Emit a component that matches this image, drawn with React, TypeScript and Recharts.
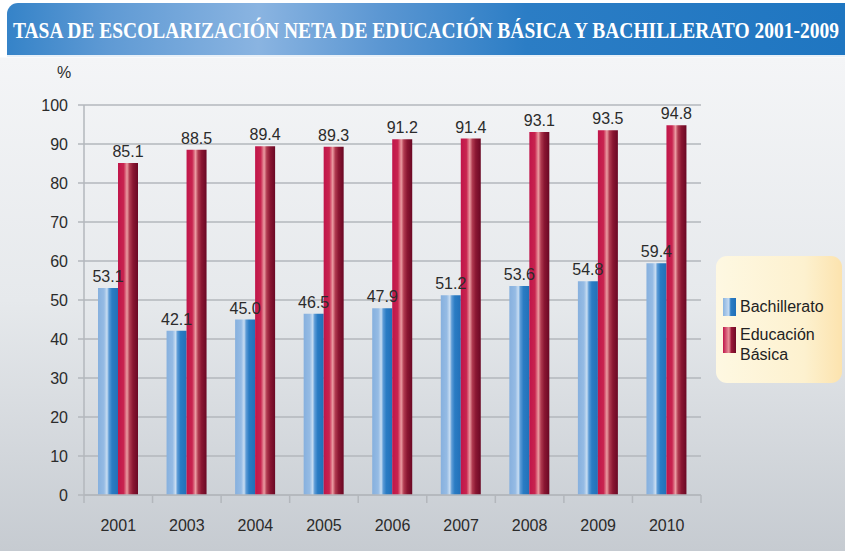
import React from 'react';
import { BarChart, Bar, XAxis, YAxis, CartesianGrid, LabelList } from 'recharts';

const years = ['2001', '2003', '2004', '2005', '2006', '2007', '2008', '2009', '2010'];
const bachillerato = [53.1, 42.1, 45.0, 46.5, 47.9, 51.2, 53.6, 54.8, 59.4];
const basica = [85.1, 88.5, 89.4, 89.3, 91.2, 91.4, 93.1, 93.5, 94.8];
const yTicks = [0, 10, 20, 30, 40, 50, 60, 70, 80, 90, 100];

const data = years.map((year, i) => ({ year, bachillerato: bachillerato[i], basica: basica[i] }));

const font = '"Liberation Sans", Arial, sans-serif';

const XTick = (props: any) => {
  const { x, y, payload, index } = props;
  const half = payload && payload.offset ? payload.offset : 34.3;
  return (
    <g>
      <line x1={x - half} y1={y - 8} x2={x - half} y2={y} stroke="#b3b7bc" strokeWidth={1.5} />
      {index === years.length - 1 && (
        <line x1={x + half} y1={y - 8} x2={x + half} y2={y} stroke="#b3b7bc" strokeWidth={1.5} />
      )}
      <text x={x} y={y + 28} textAnchor="middle" fontSize={16} fill="#2b2b2b" fontFamily={font}>
        {payload.value}
      </text>
    </g>
  );
};

const LegendBox = () => (
  <div
    style={{
      position: 'absolute',
      left: 716,
      top: 256,
      width: 126,
      height: 127,
      borderRadius: 11,
      background: 'linear-gradient(to right, #fef8e2, #fdf1cf 70%, #fce3ae)',
      fontFamily: font,
      fontSize: 16,
      color: '#222',
      boxSizing: 'border-box',
      paddingTop: 41,
      paddingLeft: 7,
    }}
  >
    <div style={{ display: 'flex', alignItems: 'center', height: 20 }}>
      <div style={{ width: 13, height: 18, background: 'linear-gradient(to right, #8ab4e0, #c4daf1 45%, #2a7cc4 60%, #1f6fb8)' }} />
      <span style={{ marginLeft: 4 }}>Bachillerato</span>
    </div>
    <div style={{ display: 'flex', alignItems: 'flex-start', marginTop: 8 }}>
      <div style={{ width: 13, height: 26, marginTop: 2, background: 'linear-gradient(to right, #c0154a, #e8949c 45%, #9a1838 65%, #6e0a26)' }} />
      <span style={{ marginLeft: 4, lineHeight: '20px' }}>Educación<br />Básica</span>
    </div>
  </div>
);

export default function App() {
  return (
    <div
      style={{
        position: 'absolute',
        left: 0,
        top: 0,
        width: 845,
        height: 551,
        background: 'linear-gradient(to bottom, #ffffff 0px, #ffffff 57px, #f4f5f7 58px, #e6e9ec 300px, #c6cbd1 551px)',
        overflow: 'hidden',
      }}
    >
      <div
        style={{
          position: 'absolute',
          left: 7,
          top: 3,
          width: 838,
          height: 52,
          borderTopLeftRadius: 11,
          background: 'linear-gradient(to right, #3583c8 0%, #5f9ad4 12%, #8ab4e1 30%, #5a96d2 45%, #2b7dc5 62%, #1f76c1 100%)',
          borderBottom: '2px solid #e8f0f8',
        }}
      >
        <svg width={836} height={52} style={{ position: 'absolute', left: 0, top: 0 }}>
          <text
            x={6}
            y={28}
            transform="scale(1,1.26)"
            fill="#ffffff"
            fontFamily='"Liberation Serif", "DejaVu Serif", serif'
            fontWeight="bold"
            fontSize={19}
            textLength={826}
            lengthAdjust="spacingAndGlyphs"
          >
            TASA DE ESCOLARIZACIÓN NETA DE EDUCACIÓN BÁSICA Y BACHILLERATO 2001-2009
          </text>
        </svg>
      </div>
      <div style={{ position: 'absolute', left: 57, top: 64, fontFamily: font, fontSize: 16, color: '#2b2b2b' }}>%</div>
      <BarChart
        width={845}
        height={551}
        data={data}
        margin={{ top: 105, right: 144, left: 34, bottom: 26 }}
        barGap={0}
        barSize={20}
        style={{ position: 'absolute', left: 0, top: 0 }}
      >
        <defs>
          <linearGradient id="gBlue" x1="0" y1="0" x2="1" y2="0">
            <stop offset="0%" stopColor="#86b0de" />
            <stop offset="30%" stopColor="#95bbe4" />
            <stop offset="45%" stopColor="#c8ddf2" />
            <stop offset="55%" stopColor="#5c9bd6" />
            <stop offset="70%" stopColor="#2a7cc4" />
            <stop offset="100%" stopColor="#2270b8" />
          </linearGradient>
          <linearGradient id="gRed" x1="0" y1="0" x2="1" y2="0">
            <stop offset="0%" stopColor="#c0154a" />
            <stop offset="28%" stopColor="#c8244f" />
            <stop offset="45%" stopColor="#eb9ca2" />
            <stop offset="58%" stopColor="#b03a50" />
            <stop offset="75%" stopColor="#8a1632" />
            <stop offset="100%" stopColor="#6a0824" />
          </linearGradient>
        </defs>
        <CartesianGrid vertical={false} stroke="#b3b7bc" strokeWidth={1.5} />
        <XAxis
          dataKey="year"
          axisLine={{ stroke: '#b3b7bc', strokeWidth: 1.5 }}
          tickLine={false}
          tick={<XTick />}
          interval={0}
          height={30}
        />
        <YAxis
          domain={[0, 100]}
          ticks={yTicks}
          interval={0}
          width={50}
          axisLine={{ stroke: '#b3b7bc', strokeWidth: 1.5 }}
          tickLine={{ stroke: '#b3b7bc', strokeWidth: 1.5 }}
          tickSize={6}
          tickMargin={10}
          tick={{ fontSize: 16, fill: '#2b2b2b', fontFamily: font }}
        />
        <Bar dataKey="bachillerato" name="Bachillerato" fill="url(#gBlue)" isAnimationActive={false}>
          <LabelList
            dataKey="bachillerato"
            position="top"
            offset={6}
            formatter={(v: any) => Number(v).toFixed(1)}
            style={{ fontSize: 16, fill: '#2b2b2b', fontFamily: font }}
          />
        </Bar>
        <Bar dataKey="basica" name="Educación Básica" fill="url(#gRed)" isAnimationActive={false}>
          <LabelList
            dataKey="basica"
            position="top"
            offset={6}
            formatter={(v: any) => Number(v).toFixed(1)}
            style={{ fontSize: 16, fill: '#2b2b2b', fontFamily: font }}
          />
        </Bar>
      </BarChart>
      <LegendBox />
    </div>
  );
}
